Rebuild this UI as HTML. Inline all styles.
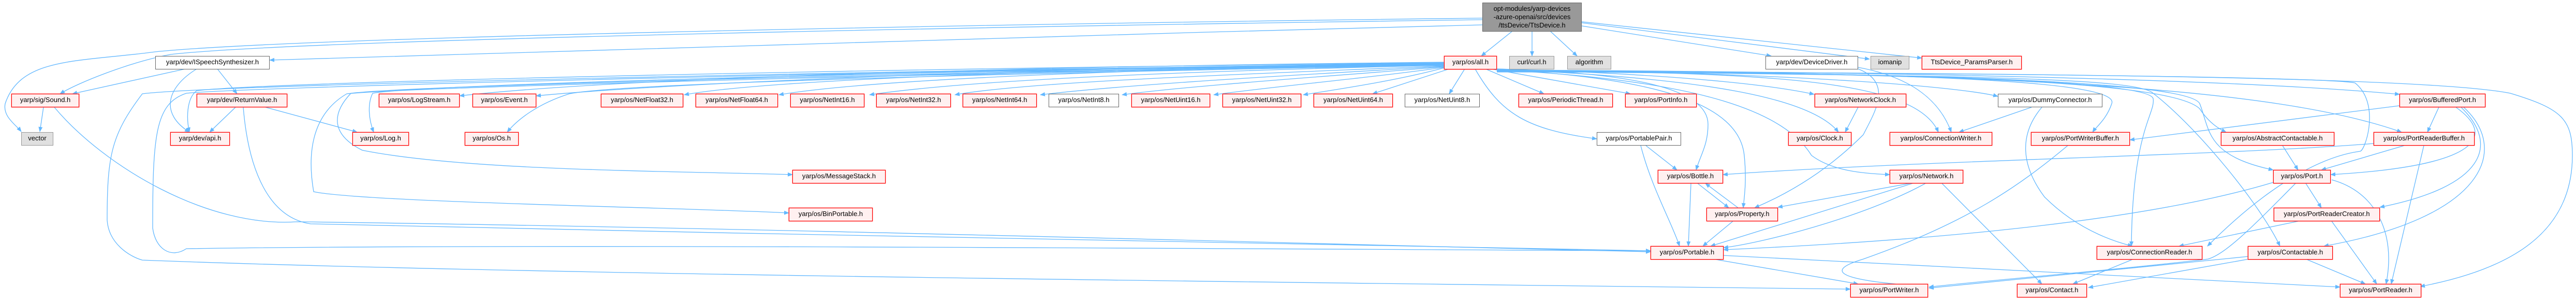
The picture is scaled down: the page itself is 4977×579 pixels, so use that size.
<!DOCTYPE html>
<html><head><meta charset="utf-8"><style>
body{margin:0;background:#fff;width:4977px;height:579px;overflow:hidden;position:relative;font-family:"Liberation Sans",sans-serif}
svg{position:absolute;left:0;top:0}
.n{position:absolute;height:24px;box-sizing:border-box;border:1.5px solid #f00;background:#fff0f0;font-size:13px;line-height:22px;text-align:center;white-space:nowrap;color:#000;overflow:hidden;box-shadow:0 0 0 0.5px #f66}
.g{background:#e0e0e0;border-color:#999;box-shadow:none}
.w{background:#fff;border-color:#666;box-shadow:none}
</style></head><body>
<svg width="4977" height="579" viewBox="0 0 4977 579">
<defs><marker id="a" markerWidth="10" markerHeight="8" refX="9" refY="4" orient="auto" markerUnits="userSpaceOnUse"><path d="M0,0 L10,4 L0,8z" fill="#63b8ff"/></marker></defs>
<g fill="none" stroke="#63b8ff" stroke-width="1.3" marker-end="url(#a)">
<!-- root -->
<path d="M2864,35 C2000,45 600,70 300,100 C150,120 40,110 10,200 C5,225 30,240 41,254"/>
<path d="M2864,38 C2000,50 600,75 330,105 C250,120 150,160 116,181"/>
<path d="M2864,48 C2000,70 1000,100 521,116"/>
<path d="M2922,60 L2862,108"/>
<path d="M2960,60 L2960,108"/>
<path d="M2995,60 L3047,108"/>
<path d="M3056,50 L3422,108"/>
<path d="M3056,44 L3612,114"/>
<path d="M3056,42 L3713,112"/>
<!-- ISpeech -->
<path d="M358,133 L140,181"/>
<path d="M380,133 C320,170 310,220 366,255"/>
<path d="M420,133 L458,181"/>
<!-- Sound -->
<path d="M84,207 L77,254"/>
<path d="M105,207 C200,320 400,440 574,428 C1500,440 2500,470 3189,486"/>
<!-- ReturnValue -->
<path d="M455,207 L405,255"/>
<path d="M513,207 L690,255"/>
<path d="M470,207 C480,330 520,420 600,432 C1500,450 2600,480 3189,484"/>
<!-- all.h left fan -->
<path d="M2790,120 C2000,128 1200,150 888,185"/>
<path d="M2790,122 C2000,130 1300,160 1036,185"/>
<path d="M2790,124 C2200,130 1500,150 1322,183"/>
<path d="M2790,125 C2300,130 1700,150 1505,183"/>
<path d="M2790,126 C2400,135 1900,150 1680,183"/>
<path d="M2790,127 C2500,140 2000,155 1845,183"/>
<path d="M2790,128 C2600,140 2200,160 2010,183"/>
<path d="M2790,129 C2600,145 2300,165 2168,183"/>
<path d="M2790,130 C2650,150 2450,168 2345,183"/>
<path d="M2790,131 C2700,155 2600,170 2518,183"/>
<path d="M2800,133 L2652,181"/>
<path d="M2830,133 L2800,181"/>
<path d="M2790,121 C1500,135 500,160 380,175 C360,190 360,230 366,255"/>
<path d="M2790,123 C1600,140 800,165 720,180 C710,200 712,230 722,255"/>
<path d="M2790,126 C2000,140 1200,160 1100,181 C1040,200 1000,230 980,255"/>
<path d="M2790,124 C1800,140 800,165 678,180 C640,220 640,260 700,290 C900,330 1300,330 1531,337"/>
<path d="M2790,125 C1800,142 800,168 670,181 C600,222 594,300 606,370 C700,390 1300,400 1524,411"/>
<path d="M2790,122 C1500,140 400,165 275,181 C215,260 207,300 207,425 C210,470 250,495 275,502 C1000,530 2500,545 3575,558"/>
<path d="M2790,123 C1500,140 450,170 360,180 C300,200 295,260 295,440 C300,480 330,500 360,480 C1000,470 2300,480 3189,484"/>
<!-- all.h right fan -->
<path d="M2870,133 L2983,181"/>
<path d="M2880,133 L3150,181"/>
<path d="M2850,133 C2900,220 2950,250 3085,268"/>
<path d="M2892,133 C3150,140 3300,170 3300,240 C3300,280 3285,300 3277,328"/>
<path d="M2892,134 C3200,150 3360,200 3370,300 C3375,350 3370,380 3368,401"/>
<path d="M2892,135 C3300,155 3450,220 3500,300 C3540,330 3600,335 3651,337"/>
<path d="M2892,133 C3300,145 3450,170 3505,182"/>
<path d="M2892,134 C3300,150 3500,190 3552,255"/>
<path d="M2892,136 C3400,140 3700,150 3745,255"/>
<path d="M2892,135 C3500,140 3800,170 3860,186"/>
<path d="M2892,136 C3600,140 4100,150 4080,200 C4070,230 4050,245 4043,255"/>
<path d="M2892,137 C3800,140 4150,160 4160,190 C4165,220 4120,250 4118,475"/>
<path d="M2892,138 C3800,145 4130,150 4160,180 C4250,250 4370,400 4405,475"/>
<path d="M2892,136 C3800,140 4200,160 4250,210 C4270,240 4290,250 4301,255"/>
<path d="M2892,137 C3800,140 4230,160 4250,200 C4270,250 4260,300 4392,328"/>
<path d="M2892,135 C3900,140 4400,160 4636,182"/>
<path d="M2892,136 C3900,140 4400,170 4640,255"/>
<path d="M2892,138 C3900,140 4500,150 4550,160 C4600,200 4570,290 4560,292 C4500,300 4400,340 4265,475"/>
<path d="M2892,139 C4000,140 4700,150 4850,180 C4950,210 4970,230 4970,300 C4970,450 4850,520 4676,553"/>
<!-- DeviceDriver -->
<path d="M3590,133 C3660,160 3620,220 3600,260 C3520,340 3440,380 3390,401"/>
<path d="M3590,130 C3700,150 3750,200 3770,255"/>
<!-- NetworkClock -->
<path d="M3590,207 L3565,255"/>
<!-- PortablePair -->
<path d="M3180,281 L3240,328"/>
<path d="M3170,281 C3190,360 3230,430 3245,475"/>
<!-- Bottle/Property -->
<path d="M3280,354 L3340,401"/>
<path d="M3358,401 L3295,354"/>
<path d="M3267,354 L3262,475"/>
<path d="M3348,427 L3290,475"/>
<!-- Network -->
<path d="M3690,354 L3435,400"/>
<path d="M3695,354 L3305,475"/>
<path d="M3720,354 C3600,420 3400,470 3330,478"/>
<path d="M3752,354 L3945,548"/>
<!-- PortReaderBuffer -> Bottle -->
<path d="M4586,277 C4300,300 3700,310 3329,337"/>
<!-- Portable -->
<path d="M3310,500 L3590,548"/>
<path d="M3330,493 C3800,520 4200,540 4521,554"/>
<!-- Dummy -->
<path d="M3925,207 L3785,255"/>
<path d="M3945,207 C3900,260 3905,320 3950,380 C4020,450 4100,470 4120,475"/>
<!-- PortWriterBuffer -->
<path d="M3995,281 C3900,360 3800,430 3600,500 C3500,530 3600,545 3725,553"/>
<!-- BufferedPort -->
<path d="M4636,204 L4115,270"/>
<path d="M4712,207 L4690,255"/>
<path d="M4745,207 C4820,260 4800,320 4503,337"/>
<path d="M4755,207 C4830,280 4800,360 4598,400"/>
<path d="M4760,207 C4850,290 4800,420 4490,475"/>
<!-- Abstract -->
<path d="M4410,281 L4440,328"/>
<!-- PRB -->
<path d="M4645,281 L4485,328"/>
<path d="M4683,281 L4620,548"/>
<!-- Port -->
<path d="M4455,354 L4485,401"/>
<path d="M4505,347 C4590,370 4630,450 4610,548"/>
<path d="M4392,352 C4100,440 3600,470 3330,482"/>
<path d="M4435,354 C4350,440 4300,490 4266,500 C4100,520 3800,545 3727,554"/>
<!-- PRC -->
<path d="M4440,427 L4210,475"/>
<path d="M4505,427 L4592,548"/>
<!-- CR -->
<path d="M4122,500 L4005,548"/>
<!-- Contactable -->
<path d="M4345,500 L4035,555"/>
<path d="M4455,500 L4570,548"/>
<path d="M4343,495 C4100,520 3850,545 3727,556"/>
</g>
</svg>
<div class="n" style="left:2864px;top:5px;width:192px;height:56px;background:#999;border-color:#666;box-shadow:none;line-height:16px;padding-top:3px">opt-modules/yarp-devices<br>-azure-openai/src/devices<br>/ttsDevice/TtsDevice.h</div>
<div class="n w" style="left:300px;top:108px;width:221px;height:26px">yarp/dev/ISpeechSynthesizer.h</div>
<div class="n" style="left:2790px;top:108px;width:102px;height:26px">yarp/os/all.h</div>
<div class="n g" style="left:2916px;top:108px;width:87px;height:26px">curl/curl.h</div>
<div class="n g" style="left:3028px;top:108px;width:85px;height:26px">algorithm</div>
<div class="n w" style="left:3411px;top:108px;width:179px;height:26px">yarp/dev/DeviceDriver.h</div>
<div class="n g" style="left:3614px;top:108px;width:75px;height:26px">iomanip</div>
<div class="n" style="left:3713px;top:108px;width:193px;height:26px">TtsDevice_ParamsParser.h</div>

<div class="n" style="left:22px;top:181px;width:131px;height:26px">yarp/sig/Sound.h</div>
<div class="n" style="left:380px;top:181px;width:175px;height:26px">yarp/dev/ReturnValue.h</div>
<div class="n" style="left:732px;top:181px;width:156px;height:26px">yarp/os/LogStream.h</div>
<div class="n" style="left:913px;top:181px;width:123px;height:26px">yarp/os/Event.h</div>
<div class="n" style="left:1161px;top:181px;width:159px;height:26px">yarp/os/NetFloat32.h</div>
<div class="n" style="left:1344px;top:181px;width:159px;height:26px">yarp/os/NetFloat64.h</div>
<div class="n" style="left:1527px;top:181px;width:143px;height:26px">yarp/os/NetInt16.h</div>
<div class="n" style="left:1693px;top:181px;width:144px;height:26px">yarp/os/NetInt32.h</div>
<div class="n" style="left:1860px;top:181px;width:143px;height:26px">yarp/os/NetInt64.h</div>
<div class="n w" style="left:2026px;top:181px;width:136px;height:26px">yarp/os/NetInt8.h</div>
<div class="n" style="left:2186px;top:181px;width:152px;height:26px">yarp/os/NetUint16.h</div>
<div class="n" style="left:2362px;top:181px;width:152px;height:26px">yarp/os/NetUint32.h</div>
<div class="n" style="left:2538px;top:181px;width:153px;height:26px">yarp/os/NetUint64.h</div>
<div class="n w" style="left:2714px;top:181px;width:145px;height:26px">yarp/os/NetUint8.h</div>
<div class="n" style="left:2934px;top:181px;width:182px;height:26px">yarp/os/PeriodicThread.h</div>
<div class="n" style="left:3140px;top:181px;width:138px;height:26px">yarp/os/PortInfo.h</div>
<div class="n" style="left:3506px;top:181px;width:177px;height:26px">yarp/os/NetworkClock.h</div>
<div class="n w" style="left:3860px;top:181px;width:202px;height:26px">yarp/os/DummyConnector.h</div>
<div class="n" style="left:4636px;top:181px;width:166px;height:26px">yarp/os/BufferedPort.h</div>

<div class="n g" style="left:41px;top:255px;width:62px;height:26px">vector</div>
<div class="n" style="left:329px;top:255px;width:115px;height:26px">yarp/dev/api.h</div>
<div class="n" style="left:681px;top:255px;width:109px;height:26px">yarp/os/Log.h</div>
<div class="n" style="left:898px;top:255px;width:104px;height:26px">yarp/os/Os.h</div>
<div class="n w" style="left:3085px;top:255px;width:163px;height:26px">yarp/os/PortablePair.h</div>
<div class="n" style="left:3455px;top:255px;width:122px;height:26px">yarp/os/Clock.h</div>
<div class="n" style="left:3651px;top:255px;width:198px;height:26px">yarp/os/ConnectionWriter.h</div>
<div class="n" style="left:3924px;top:255px;width:191px;height:26px">yarp/os/PortWriterBuffer.h</div>
<div class="n" style="left:4291px;top:255px;width:219px;height:26px">yarp/os/AbstractContactable.h</div>
<div class="n" style="left:4586px;top:255px;width:195px;height:26px">yarp/os/PortReaderBuffer.h</div>

<div class="n" style="left:1531px;top:328px;width:180px;height:26px">yarp/os/MessageStack.h</div>
<div class="n" style="left:3203px;top:328px;width:126px;height:26px">yarp/os/Bottle.h</div>
<div class="n" style="left:3651px;top:328px;width:142px;height:26px">yarp/os/Network.h</div>
<div class="n" style="left:4392px;top:328px;width:111px;height:26px">yarp/os/Port.h</div>

<div class="n" style="left:1524px;top:401px;width:162px;height:26px">yarp/os/BinPortable.h</div>
<div class="n" style="left:3297px;top:401px;width:138px;height:26px">yarp/os/Property.h</div>
<div class="n" style="left:4393px;top:401px;width:205px;height:26px">yarp/os/PortReaderCreator.h</div>

<div class="n" style="left:3189px;top:475px;width:141px;height:26px">yarp/os/Portable.h</div>
<div class="n" style="left:4051px;top:475px;width:204px;height:26px">yarp/os/ConnectionReader.h</div>
<div class="n" style="left:4343px;top:475px;width:164px;height:26px">yarp/os/Contactable.h</div>

<div class="n" style="left:3575px;top:548px;width:150px;height:26px">yarp/os/PortWriter.h</div>
<div class="n" style="left:3897px;top:548px;width:135px;height:26px">yarp/os/Contact.h</div>
<div class="n" style="left:4521px;top:548px;width:157px;height:26px">yarp/os/PortReader.h</div>
</body></html>
